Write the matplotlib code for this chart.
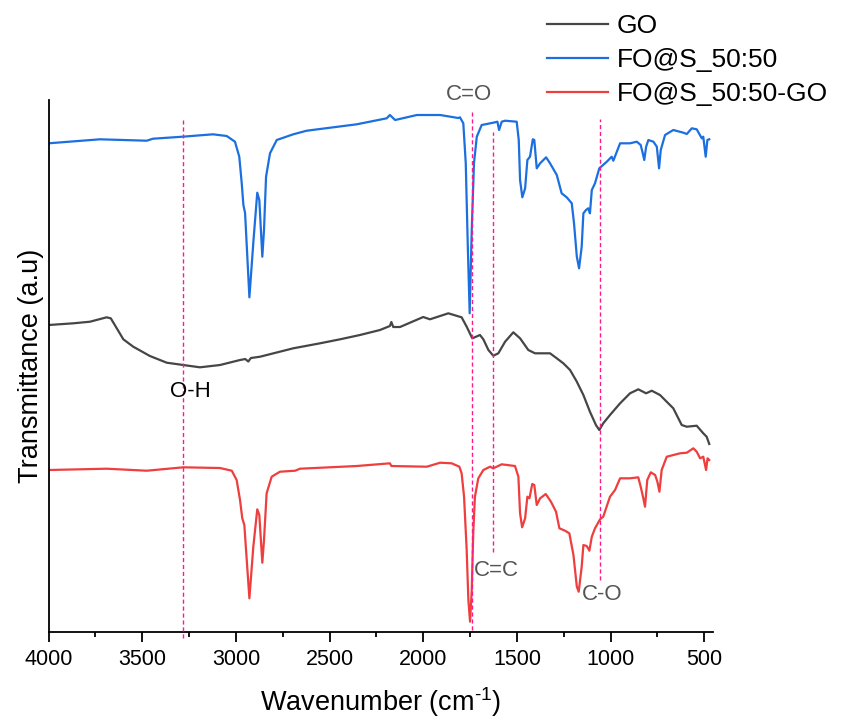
import matplotlib
matplotlib.use("Agg")
import matplotlib.pyplot as plt
from matplotlib.ticker import MultipleLocator

plt.rcParams['font.family'] = ['Liberation Sans', 'DejaVu Sans']
plt.rcParams['mathtext.default'] = 'regular'

# FTIR spectra: wavenumber (cm-1) and stacked transmittance (a.u.)
go_wn = [4000, 3868, 3779, 3690, 3668, 3636, 3601, 3548, 3459, 3369, 3281, 3192,
         3085, 2978, 2950, 2934, 2920, 2871, 2694, 2551, 2444, 2338, 2231, 2178,
         2170, 2160, 2124, 2000, 1964, 1866, 1795, 1768, 1738, 1718, 1697, 1679,
         1652, 1626, 1599, 1563, 1519, 1483, 1439, 1403, 1323, 1287, 1252, 1216,
         1180, 1145, 1110, 1078, 1060, 1039, 1003, 949, 896, 852, 810, 780, 736,
         665, 620, 593, 540, 505, 487, 473]
go_t = [307.0, 308.7, 310.3, 314.7, 313.7, 303.7, 292.7, 285.3, 276.0, 269.3, 267.0, 264.7,
        267.0, 272.0, 273.0, 270.5, 274.0, 275.3, 283.7, 288.7, 292.7, 297.0, 302.0, 306.0,
        310.0, 305.0, 305.0, 315.0, 312.7, 318.7, 314.7, 305.3, 293.7, 295.3, 297.0, 292.7,
        282.0, 276.3, 278.7, 290.3, 299.7, 293.7, 282.0, 278.7, 278.7, 273.7, 268.7, 262.0,
        250.3, 237.0, 220.3, 207.0, 202.0, 208.7, 217.0, 228.7, 238.7, 242.7, 238.7, 241.3, 237.0,
        223.7, 207.0, 205.3, 206.3, 198.7, 195.3, 188.0]

fos_wn = [4000, 3726, 3476, 3443, 3285, 3122, 3049, 3005, 2982, 2969, 2960, 2951,
          2928, 2906, 2886, 2875, 2859, 2850, 2839, 2818, 2782, 2694, 2622, 2355,
          2195, 2178, 2150, 2034, 1910, 1813, 1804, 1786, 1773, 1762, 1752, 1741,
          1729, 1714, 1688, 1626, 1604, 1595, 1581, 1563, 1501, 1490, 1483, 1471,
          1456, 1444, 1430, 1415, 1407, 1394, 1376, 1344, 1323, 1287, 1261, 1234,
          1207, 1195, 1180, 1168, 1154, 1145, 1131, 1119, 1110, 1100, 1083, 1060,
          1020, 994, 985, 949, 896, 860, 839, 828, 820, 810, 798, 771, 753, 741,
          732, 709, 665, 611, 593, 566, 540, 513, 505, 492, 483, 473]
fos_t = [488.7, 492.7, 491.3, 493.3, 495.3, 497.7, 496.0, 490.3, 475.3, 449.0, 427.0, 419.0,
         334.7, 392.0, 439.3, 432.0, 375.3, 402.0, 455.3, 478.7, 492.0, 497.7, 501.3, 507.7,
         513.7, 517.0, 512.0, 517.0, 517.0, 514.0, 514.7, 508.7, 469.0, 385.3, 318.7, 402.0,
         469.0, 495.3, 507.0, 509.3, 510.3, 502.0, 510.3, 511.3, 510.3, 492.0, 452.0, 434.7,
         443.7, 472.0, 475.3, 492.7, 492.0, 463.7, 468.7, 474.7, 468.7, 457.0, 438.7, 434.7,
         428.7, 408.7, 375.3, 363.7, 385.3, 418.7, 422.0, 423.7, 418.7, 442.0, 448.7, 463.7,
         470.3, 475.3, 471.3, 488.7, 488.7, 490.3, 487.0, 478.7, 472.0, 485.3, 492.0, 490.3, 485.3, 463.7,
         482.0, 497.0, 502.0, 499.3, 498.0, 503.7, 502.7, 493.7, 495.3, 475.3, 492.0, 492.7]

fosgo_wn = [4000, 3690, 3476, 3281, 3085, 3022, 2996, 2978, 2966, 2955, 2928, 2907,
            2886, 2875, 2859, 2850, 2836, 2809, 2765, 2684, 2658, 2355, 2178, 2170,
            1981, 1910, 1848, 1807, 1795, 1782, 1768, 1759, 1750, 1741, 1733, 1724,
            1706, 1679, 1643, 1626, 1581, 1510, 1492, 1483, 1472, 1456, 1444, 1433,
            1418, 1407, 1394, 1376, 1346, 1318, 1291, 1273, 1243, 1220, 1198, 1180,
            1170, 1154, 1145, 1127, 1113, 1100, 1083, 1056, 1039, 1003, 976, 949,
            896, 852, 839, 825, 816, 804, 785, 762, 750, 739, 727, 700, 629, 593,
            558, 540, 522, 505, 490, 482, 473]
fosgo_t = [162.0, 163.3, 161.3, 164.7, 164.0, 161.3, 152.0, 132.0, 113.7, 107.0, 33.7, 85.3,
           122.7, 117.0, 69.3, 92.0, 138.7, 155.3, 160.3, 161.3, 163.3, 166.0, 168.7, 166.0,
           165.3, 169.3, 168.7, 165.3, 158.7, 135.3, 82.0, 32.0, 10.3, 42.0, 98.7, 135.3,
           153.7, 162.0, 165.3, 163.7, 167.7, 166.0, 155.3, 118.7, 104.7, 113.7, 135.3, 133.7,
           148.0, 147.0, 127.0, 133.7, 138.0, 130.3, 120.3, 103.7, 101.3, 98.7, 77.0, 45.3,
           40.3, 65.3, 87.0, 86.0, 81.3, 95.3, 103.7, 112.7, 115.3, 135.3, 142.0, 153.7,
           153.7, 154.7, 145.3, 133.7, 125.3, 152.0, 159.7, 157.0, 150.3, 140.3, 162.0, 175.3, 178.7, 179.3,
           183.7, 180.3, 173.7, 175.3, 162.0, 173.7, 172.0]

# Band assignments: label, wavenumber, marker line span, label anchor
band_names = ['O-H', 'C=O', 'C=C', 'C-O']
band_wn = [3280, 1738, 1626, 1058]
band_span = [(-6, 512), (2, 520), (80, 500), (52, 513)]
label_pos = [(3245, 241), (1755, 538), (1729, 62), (1152, 38)]
label_align = ['center', 'center', 'left', 'left']
label_color = ['#000000', '#555555', '#555555', '#555555']

fig = plt.figure(figsize=(8.42, 7.2), dpi=100)
ax = fig.add_axes([0.0577, 0.1222, 0.7891, 0.7389])

lw = 1.6
ax.plot(go_wn, go_t, color='#464646', lw=lw, label='GO')
ax.plot(fos_wn, fos_t, color='#1C6FDF', lw=lw, label='FO@S_50:50')
ax.plot(fosgo_wn, fosgo_t, color='#EE3E3E', lw=lw, label='FO@S_50:50-GO')

for name, wn, (y0, y1), (tx, ty), ha, col in zip(band_names, band_wn, band_span,
                                                  label_pos, label_align, label_color):
    ax.plot([wn, wn], [y0, y1], color='#FF1A8C', lw=1.0, dashes=(3, 2),
            clip_on=False, zorder=3)
    ax.text(tx, ty, name, ha=ha, va='center', fontsize=16, color=col, clip_on=False)

ax.set_xlim(4000, 453)
ax.set_ylim(0, 532)
ax.xaxis.set_major_locator(MultipleLocator(500))
ax.xaxis.set_minor_locator(MultipleLocator(250))
ax.set_yticks([])
for side in ('top', 'right'):
    ax.spines[side].set_visible(False)
for side in ('left', 'bottom'):
    ax.spines[side].set_linewidth(1.3)
ax.tick_params(axis='x', which='major', direction='out', length=7, width=1.3,
               labelsize=15.5, pad=5)
ax.tick_params(axis='x', which='minor', direction='out', length=3.5, width=1.3)

ax.set_xlabel('Wavenumber (cm$^{\u2010 1}$)', fontsize=19.5, labelpad=11)
ax.set_ylabel('Transmittance (a.u)', fontsize=19.5, labelpad=3)

fig.legend(loc='upper left', bbox_to_anchor=(547 / 842, 1 - 14 / 720),
           frameon=False, fontsize=19, handlelength=2.3, handletextpad=0.35,
           labelspacing=0.38, borderpad=0, borderaxespad=0)

fig.savefig('out.png', dpi=100)
